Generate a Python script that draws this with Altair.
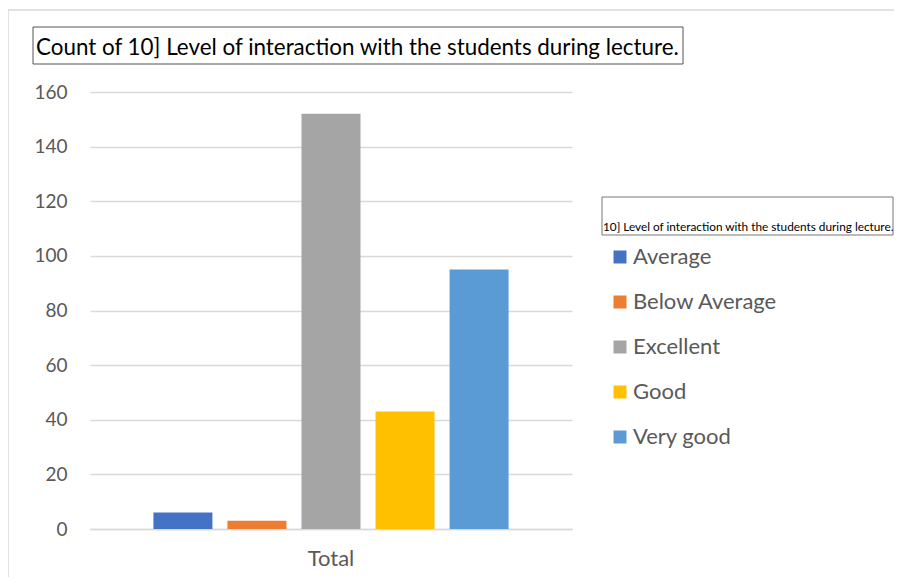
import altair as alt
import pandas as pd

categories = ["Average", "Below Average", "Excellent", "Good", "Very good"]
counts = [6, 3, 152, 43, 95]
colors = ["#4472C4", "#ED7D31", "#A5A5A5", "#FFC000", "#5B9BD5"]
y_ticks = [0, 20, 40, 60, 80, 100, 120, 140, 160]
group_label = "Total"
title_text = "Count of 10] Level of interaction with the students during lecture."
legend_title = "10] Level of interaction with the students during lecture."

FONT = "Lato"
GRAY = "#595959"

df = pd.DataFrame({"group": [group_label] * len(categories),
                   "category": categories, "count": counts})

W, H = 482, 437

bars = alt.Chart(df).mark_bar().encode(
    x=alt.X("group:N", title=None,
            scale=alt.Scale(paddingOuter=0.151, paddingInner=0),
            axis=alt.Axis(labelAngle=0, labelFontSize=22, labelColor=GRAY,
                          labelFont=FONT, labelPadding=19, ticks=False,
                          domainColor="#d9d9d9", domainWidth=1.5, grid=False)),
    xOffset=alt.XOffset("category:N", sort=categories,
                        scale=alt.Scale(paddingInner=0.203, paddingOuter=0.1015)),
    y=alt.Y("count:Q", title=None,
            scale=alt.Scale(domain=[0, 160], nice=False),
            axis=alt.Axis(values=y_ticks, labelFontSize=19, labelColor=GRAY,
                          labelFont=FONT, labelPadding=23, ticks=False,
                          domain=False, gridColor="#d9d9d9", gridWidth=1.5)),
    color=alt.Color("category:N", sort=categories,
                    scale=alt.Scale(domain=categories, range=colors),
                    legend=alt.Legend(title=None, orient="none", legendX=519,
                                      legendY=154, symbolType="square",
                                      symbolSize=169, symbolStrokeWidth=0,
                                      labelFontSize=22, labelColor=GRAY,
                                      labelFont=FONT, rowPadding=23,
                                      labelOffset=2)),
)

frame_df = pd.DataFrame({"k": [0]})

outer = alt.Chart(frame_df).mark_rect(fill=None, stroke="#d9d9d9", strokeWidth=1.5).encode(
    x=alt.value(-82), x2=alt.value(900), y=alt.value(-82), y2=alt.value(700))

title_box = alt.Chart(frame_df).mark_rect(fill=None, stroke="#555555", strokeWidth=1).encode(
    x=alt.value(-57), x2=alt.value(593), y=alt.value(-65), y2=alt.value(-28))

title_mark = alt.Chart(frame_df).mark_text(
    text=title_text, align="left", baseline="middle", fontSize=22.4,
    font=FONT, color="#000000").encode(x=alt.value(-54), y=alt.value(-44))

leg_box = alt.Chart(frame_df).mark_rect(fill=None, stroke="#777777", strokeWidth=1).encode(
    x=alt.value(512), x2=alt.value(803), y=alt.value(105), y2=alt.value(143))

leg_title = alt.Chart(frame_df).mark_text(
    text=legend_title, align="left", baseline="middle", fontSize=11.8,
    font=FONT, color="#000000").encode(x=alt.value(513), y=alt.value(135))

chart = alt.layer(outer, bars, title_box, title_mark, leg_box, leg_title).properties(
    width=W, height=H,
    background="white",
    autosize=alt.AutoSizeParams(type="none"),
    padding={"left": 82, "top": 84, "right": 322, "bottom": 48},
).configure_view(stroke=None)

chart.save("out.html", embed_options={"renderer": "svg", "actions": False})
